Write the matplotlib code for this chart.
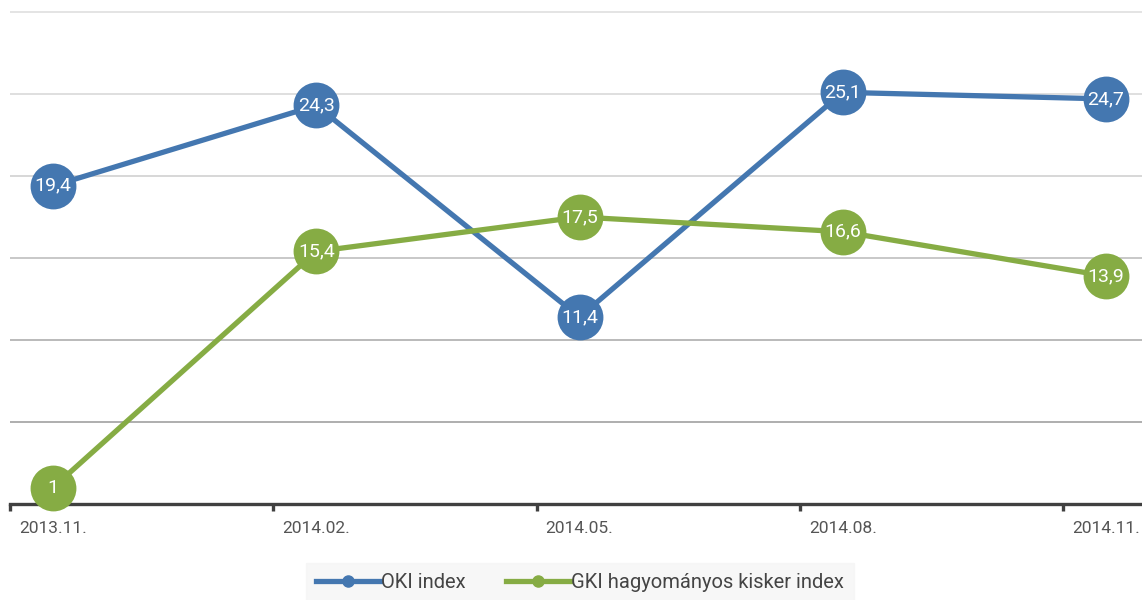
import matplotlib.pyplot as plt
from matplotlib.lines import Line2D

# data
periods = ["2013.11.", "2014.02.", "2014.05.", "2014.08.", "2014.11."]
oki = [19.4, 24.3, 11.4, 25.1, 24.7]
gki = [1.0, 15.4, 17.5, 16.6, 13.9]
series_names = ["OKI index", "GKI hagyományos kisker index"]

blue = "#4477b0"
green = "#86ac44"
plt.rcParams["font.family"] = ["Roboto", "DejaVu Sans"]

fig = plt.figure(figsize=(11.42, 6.0), dpi=100)
# axes: x from 10px to 1142px, y from 504px (value 0) to top
ax = fig.add_axes([10 / 1142, (600 - 504) / 600, 1132 / 1142, 504 / 600])

x = list(range(len(periods)))
step = 263.25
x0 = -43 / step
ax.set_xlim(x0, x0 + 1132 / step)
ax.set_ylim(0, 504 / 16.4)

# gridlines
grid_colors = {5: "#a8a8a8", 10: "#b4b4b4", 15: "#c4c4c4", 20: "#d4d4d4",
               25: "#dcdcdc", 30: "#e2e2e2"}
for v, c in grid_colors.items():
    ax.axhline(v, color=c, lw=1.3, zorder=0)

for vals, col in [(oki, blue), (gki, green)]:
    ax.plot(x, vals, color=col, lw=3.8, marker="o", markersize=33,
            markeredgewidth=0, zorder=3, clip_on=False,
            solid_capstyle="round")
    for xi, v in zip(x, vals):
        lbl = f"{v:g}".replace(".", ",")
        ax.text(xi, v, lbl, color="white", ha="center", va="center",
                fontsize=14, zorder=4)

for s in ["top", "right", "left"]:
    ax.spines[s].set_visible(False)
ax.spines["bottom"].set_color("#404040")
ax.spines["bottom"].set_linewidth(2.4)
ax.spines["bottom"].set_zorder(2)

ax.set_yticks([])
ax.set_xticks([x0 + k for k in range(5)])
ax.set_xticklabels([])
ax.tick_params(axis="x", length=5, width=2.4, color="#404040", direction="out")
ax.set_xticks(x, minor=True)
ax.set_xticklabels(periods, minor=True, fontsize=12.5, color="#555555")
ax.tick_params(axis="x", which="minor", length=0, pad=12)

handles = [Line2D([], [], color=c, lw=3.8, marker="o", markersize=8)
           for c in (blue, green)]
leg = fig.legend(handles, series_names, loc="center",
                 bbox_to_anchor=(580 / 1142, (600 - 583) / 600), ncol=2,
                 frameon=True, fontsize=14.5, handlelength=3.2,
                 handletextpad=0.05, columnspacing=2.0, borderpad=0.5,
                 fancybox=False, labelcolor="#444444")
leg.get_frame().set_facecolor("#f5f5f5")
leg.get_frame().set_edgecolor("#f5f5f5")

fig.savefig("out.png", dpi=100)
